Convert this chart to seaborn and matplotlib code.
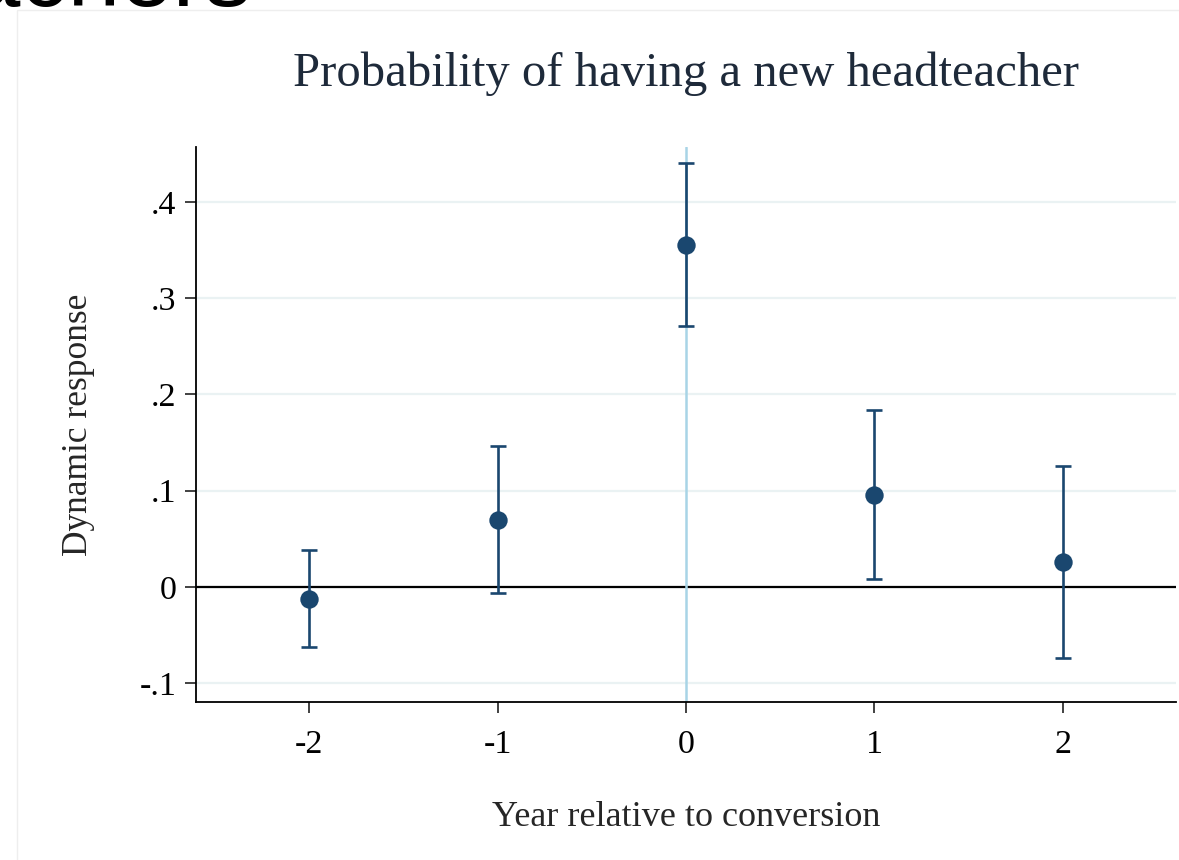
import matplotlib
matplotlib.use("Agg")
import matplotlib.pyplot as plt
import seaborn as sns
import pandas as pd
from matplotlib.patches import Rectangle

# event-study estimates
years = [-2, -1, 0, 1, 2]
coef = [-0.0125, 0.0697, 0.3555, 0.0956, 0.0260]
ci_low = [-0.0630, -0.0060, 0.2713, 0.0083, -0.0738]
ci_high = [0.0385, 0.1466, 0.4400, 0.1840, 0.1258]
y_ticks = [-0.1, 0, 0.1, 0.2, 0.3, 0.4]
y_tick_labels = ["-.1", "0", ".1", ".2", ".3", ".4"]

navy = "#1a476f"

sns.set_theme(style="white")
plt.rcParams['font.family'] = ['Liberation Serif', 'DejaVu Serif']

df = pd.DataFrame({"year": years, "coef": coef, "lo": ci_low, "hi": ci_high})

fig = plt.figure(figsize=(11.79, 8.6), dpi=100)
ax = fig.add_axes([0.1662, 0.1837, 0.8313, 0.6453])

# faint frame of the graph region and clipped slide heading
fig.patches.append(Rectangle((17 / 1179, -0.1), 1.2, (860 - 10) / 860 + 0.1,
                             transform=fig.transFigure, fill=False,
                             edgecolor="#eeeeee", linewidth=1.0, zorder=0))
fig.text(252 / 1179, 1 - 6 / 860, "Teachers", ha="right", va="baseline",
         fontsize=68, family=["Liberation Sans", "DejaVu Sans"], color="black")

# gridlines
for t in y_ticks:
    ax.axhline(t, color="#eaf2f3", linewidth=1.6, zorder=0)
ax.axhline(0, color="black", linewidth=1.6, zorder=1)
ax.axvline(0, color="#a8d4e6", linewidth=1.8, zorder=1)

yerr = [df["coef"] - df["lo"], df["hi"] - df["coef"]]
ax.errorbar(df["year"], df["coef"], yerr=yerr, fmt="none", ecolor=navy,
            elinewidth=1.9, capsize=5.5, capthick=1.9, zorder=2)
sns.scatterplot(data=df, x="year", y="coef", ax=ax, color=navy, s=175,
                edgecolor=navy, linewidth=0, zorder=3)

ax.set_xlim(-2.6, 2.6)
ax.set_ylim(-0.1197, 0.457)
ax.set_xticks(years)
ax.set_xticklabels([str(y) for y in years])
ax.set_yticks(y_ticks)
ax.set_yticklabels(y_tick_labels)

for side in ["top", "right"]:
    ax.spines[side].set_visible(False)
for side in ["left", "bottom"]:
    ax.spines[side].set_color("black")
    ax.spines[side].set_linewidth(1.3)

ax.tick_params(axis="both", which="major", direction="out", length=8, width=1.3,
               color="#333333", labelsize=24.5, labelcolor="black",
               left=True, bottom=True)
ax.tick_params(axis="x", pad=12)
ax.tick_params(axis="y", pad=6)

ax.set_xlabel("Year relative to conversion", fontsize=26, labelpad=29)
ax.set_ylabel("Dynamic response", fontsize=25.5, labelpad=32)
ax.set_title("Probability of having a new headteacher", fontsize=35,
             color="#1e2a3a", pad=44)

fig.savefig("out.png", dpi=100, facecolor="white")
